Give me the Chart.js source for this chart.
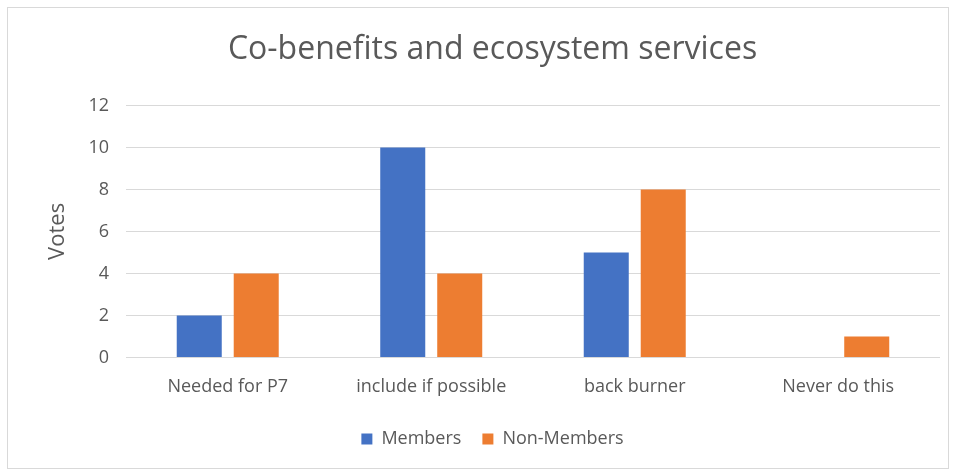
<!DOCTYPE html>
<html lang="en">
<head>
    <meta charset="UTF-8">
    <title>Co-benefits and ecosystem services</title>
    <script src="https://cdn.jsdelivr.net/npm/chart.js"></script>
    <style>
        body { margin: 0; background: #fff; }
        #wrap { position: absolute; left: 7px; top: 7px; width: 940px; height: 460px; border: 1px solid #d9d9d9; }
        canvas { display: block; }
    </style>
</head>
<body>
    <div id="wrap"><canvas id="votesChart" width="940" height="460"></canvas></div>

    <script>
        const categories = ['Needed for P7', 'include if possible', 'back burner', 'Never do this'];
        const members = [2, 10, 5, 0];
        const nonMembers = [4, 4, 8, 1];

        const labelFont = { family: 'Open Sans', size: 18 };

        new Chart(document.getElementById('votesChart').getContext('2d'), {
            type: 'bar',
            data: {
                labels: categories,
                datasets: [{
                    label: 'Members',
                    data: members,
                    backgroundColor: '#4472C4',
                    categoryPercentage: 0.56,
                    barPercentage: 0.79
                }, {
                    label: 'Non-Members',
                    data: nonMembers,
                    backgroundColor: '#ED7D31',
                    categoryPercentage: 0.56,
                    barPercentage: 0.79
                }]
            },
            options: {
                responsive: false,
                animation: false,
                layout: { padding: { left: 37, right: 8, top: 10, bottom: 10 } },
                plugins: {
                    title: {
                        display: true,
                        text: 'Co-benefits and ecosystem services',
                        color: '#595959',
                        font: { family: 'Open Sans', size: 32, weight: 'normal' },
                        padding: { top: 13, bottom: 36 }
                    },
                    legend: {
                        position: 'bottom',
                        labels: {
                            color: '#595959',
                            font: labelFont,
                            boxWidth: 11,
                            boxHeight: 11,
                            padding: 21
                        }
                    },
                    tooltip: { enabled: false }
                },
                scales: {
                    x: {
                        grid: { display: false },
                        border: { display: false },
                        ticks: { color: '#595959', font: labelFont, padding: 11 }
                    },
                    y: {
                        min: 0,
                        max: 12,
                        ticks: { stepSize: 2, color: '#595959', font: labelFont, padding: 17 },
                        grid: { color: '#d9d9d9', drawTicks: false },
                        border: { display: false },
                        title: {
                            display: true,
                            text: 'Votes',
                            color: '#595959',
                            font: { family: 'Open Sans', size: 22 },
                            padding: { top: 0, bottom: 0 }
                        }
                    }
                }
            }
        });
    </script>
</body>
</html>
